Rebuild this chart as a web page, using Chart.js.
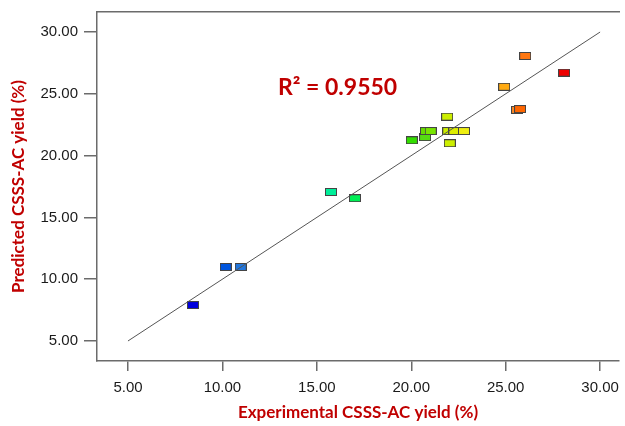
<!DOCTYPE html>
<html>
<head>
    <title>Predicted vs Experimental</title>
    <script src="https://cdn.jsdelivr.net/npm/chart.js"></script>
    <style>
        body {
            margin: 0;
            background: white;
        }
        #chart-wrap {
            width: 625px;
            height: 426px;
        }
    </style>
</head>
<body>
    <div id="chart-wrap">
        <canvas id="parity-chart" width="625" height="426"></canvas>
    </div>

    <script>
        // experimental vs predicted yield (%)
        const expYield  = [8.44, 10.18, 10.97, 15.75, 17.02, 20.03, 20.73, 20.78, 21.03, 21.90, 22.04, 21.96, 22.28, 22.79, 24.92, 26.03, 25.60, 25.76, 28.09];
        const predYield = [7.91, 10.99, 10.99, 17.06, 16.55, 21.24, 21.50, 21.99, 21.99, 23.15, 21.00, 21.99, 21.99, 21.99, 25.57, 28.06, 23.70, 23.77, 26.71];
        const pointColors = ['#0000dd', '#0055dd', '#2277dd', '#00ee99', '#00ee55', '#33dd00', '#55dd11', '#66dd00', '#77e600',
                             '#ccee00', '#ccee00', '#ccee00', '#dded00', '#eeee11', '#ffaa11', '#ff7711', '#ff8822', '#ff6600', '#ee0000'];
        const fitLine = [5, 30];
        const xTicks = [5, 10, 15, 20, 25, 30];
        const yTicks = [5, 10, 15, 20, 25, 30];
        const rSquared = 'R\u00B2 = 0.9550';
        const rLabelAt = {x: 16.1, y: 25.5};

        const red = '#c00000';
        const axisGrey = '#6b6b6b';

        function boxMarker(color) {
            const c = document.createElement('canvas');
            c.width = 12;
            c.height = 8;
            const g = c.getContext('2d');
            g.fillStyle = color;
            g.fillRect(0, 0, 12, 8);
            g.strokeStyle = '#444';
            g.lineWidth = 1;
            g.strokeRect(0.5, 0.5, 11, 7);
            return c;
        }

        const markers = pointColors.map(boxMarker);

        // drop the label overhang padding so the plot box sits where we want it
        function noPad(s) {
            s.paddingLeft = 0;
            s.paddingRight = 0;
            s.paddingTop = 0;
            s.paddingBottom = 0;
        }

        const r2Label = {
            id: 'r2Label',
            afterDatasetsDraw(chart) {
                const ctx = chart.ctx;
                const px = chart.scales.x.getPixelForValue(rLabelAt.x);
                const py = chart.scales.y.getPixelForValue(rLabelAt.y);
                ctx.save();
                ctx.font = 'bold 23px Lato';
                ctx.fillStyle = red;
                ctx.textAlign = 'center';
                ctx.textBaseline = 'middle';
                ctx.fillText(rSquared, px, py);
                ctx.restore();
            }
        };

        const ctx = document.getElementById('parity-chart').getContext('2d');
        new Chart(ctx, {
            type: 'scatter',
            data: {
                datasets: [{
                    type: 'line',
                    data: fitLine.map(v => ({x: v, y: v})),
                    borderColor: '#555',
                    borderWidth: 1,
                    pointRadius: 0,
                    fill: false
                }, {
                    data: expYield.map((v, i) => ({x: v, y: predYield[i]})),
                    pointStyle: markers,
                    pointRadius: 5
                }]
            },
            options: {
                responsive: false,
                animation: false,
                layout: { padding: { top: 12, right: 0, left: 0, bottom: 0 } },
                plugins: {
                    legend: { display: false },
                    tooltip: { enabled: false }
                },
                scales: {
                    x: {
                        type: 'linear',
                        position: 'bottom',
                        min: 3.36,
                        max: 31.0,
                        afterBuildTicks: s => { s.ticks = xTicks.map(v => ({value: v})); },
                        afterFit: s => { s.height = 65; noPad(s); },
                        grid: { drawOnChartArea: false, tickLength: 10, color: axisGrey, lineWidth: 1.5 },
                        border: { color: axisGrey, width: 1.5 },
                        ticks: {
                            padding: 8,
                            color: '#1a1a1a',
                            font: { family: 'Liberation Sans', size: 15 },
                            callback: v => Number(v).toFixed(2)
                        },
                        title: {
                            display: true,
                            text: 'Experimental CSSS-AC yield (%)',
                            color: red,
                            font: { family: 'Lato', size: 17, weight: 'bold' },
                            padding: { top: 0, bottom: 3 }
                        }
                    },
                    xTop: {
                        type: 'linear',
                        position: 'top',
                        min: 3.36,
                        max: 31.0,
                        afterFit: s => { s.height = 0; noPad(s); },
                        grid: { display: false },
                        border: { color: axisGrey, width: 1.5 },
                        ticks: { display: false }
                    },
                    y: {
                        type: 'linear',
                        position: 'left',
                        min: 3.38,
                        max: 31.62,
                        afterBuildTicks: s => { s.ticks = yTicks.map(v => ({value: v})); },
                        afterFit: s => { s.width = 97; noPad(s); },
                        grid: { drawOnChartArea: false, tickLength: 13, color: axisGrey, lineWidth: 1.5 },
                        border: { color: axisGrey, width: 1.5 },
                        ticks: {
                            padding: 6,
                            color: '#1a1a1a',
                            font: { family: 'Liberation Sans', size: 15 },
                            callback: v => Number(v).toFixed(2)
                        },
                        title: {
                            display: true,
                            text: 'Predicted CSSS-AC yield (%)',
                            color: red,
                            font: { family: 'Lato', size: 17, weight: 'bold' },
                            padding: { top: 8, bottom: 0 }
                        }
                    }
                }
            },
            plugins: [r2Label]
        });
    </script>
</body>
</html>
